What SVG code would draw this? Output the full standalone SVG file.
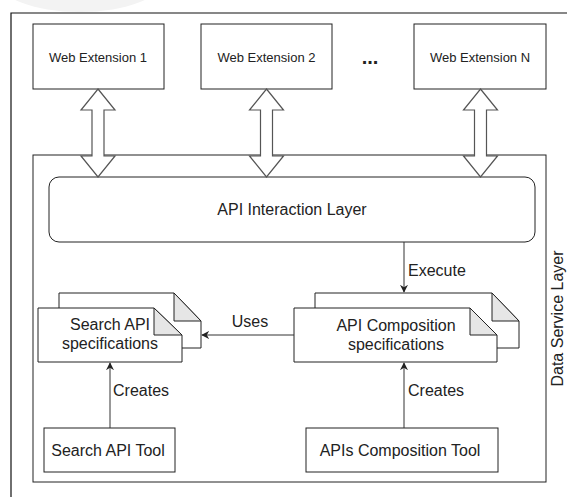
<svg xmlns="http://www.w3.org/2000/svg" width="567" height="497" viewBox="0 0 567 497">
<defs>
<marker id="ah" viewBox="0 0 10 10" refX="9" refY="5" markerWidth="8" markerHeight="8" markerUnits="userSpaceOnUse" orient="auto">
<path d="M0,0 L10,5 L0,10 L3,5 Z" fill="#222"/>
</marker>
</defs>
<style>
text{font-family:"Liberation Sans",Arial,sans-serif;fill:#222}
.box{fill:#fff;stroke:#222;stroke-width:1}
.t13{font-size:13px;text-anchor:middle}
.t16{font-size:16px}
.mid{text-anchor:middle}
.fold{fill:#e6e6e6;stroke:#222;stroke-width:1;stroke-linejoin:round}
.blk{fill:#fff;stroke:#555;stroke-width:1.2;stroke-linejoin:miter}
.ln{fill:none;stroke:#333;stroke-width:1;marker-end:url(#ah)}
</style>
<rect width="567" height="497" fill="#fff"/>
<ellipse cx="80" cy="-22" rx="85" ry="34" fill="#f3f3f3"/>
<path d="M11,497 L11,13 L567,13" fill="none" stroke="#111" stroke-width="1.2"/>

<g id="data-service-layer">
<rect class="box" x="33" y="155" width="513" height="327"/>
<text class="t16 mid" transform="translate(563,318.5) rotate(-90)">Data Service Layer</text>
</g>

<g id="web-extension-1">
<rect class="box" x="33" y="24" width="131" height="65"/>
<text class="t13" x="98" y="61.5">Web Extension 1</text>
</g>
<g id="web-extension-2">
<rect class="box" x="201" y="24" width="131" height="65"/>
<text class="t13" x="266.5" y="61.5">Web Extension 2</text>
</g>
<g id="ellipsis">
<text x="370" y="64" font-size="20" font-weight="bold" text-anchor="middle">...</text>
</g>
<g id="web-extension-n">
<rect class="box" x="414" y="24" width="132" height="65"/>
<text class="t13" x="480" y="61.5">Web Extension N</text>
</g>

<g id="api-interaction-layer">
<rect class="box" x="49" y="177" width="486" height="65" rx="10" ry="10"/>
<text class="t16 mid" x="292" y="215">API Interaction Layer</text>
</g>

<g id="search-api-specifications">
<path class="box" d="M59,293 L174,293 L201,321 L201,348 L59,348 Z"/>
<path class="fold" d="M174,293 L174,321 L201,321 Z"/>
<path class="box" d="M38,308 L154,308 L182,335 L182,362 L38,362 Z"/>
<path class="fold" d="M154,308 L154,335 L182,335 Z"/>
<text class="t16 mid" x="110" y="330">Search API</text>
<text class="t16 mid" x="110" y="349">specifications</text>
</g>

<g id="api-composition-specifications">
<path class="box" d="M315,293 L492,293 L519,321 L519,348 L315,348 Z"/>
<path class="fold" d="M492,293 L492,321 L519,321 Z"/>
<path class="box" d="M294,308 L470,308 L497,335 L497,362 L294,362 Z"/>
<path class="fold" d="M470,308 L470,335 L497,335 Z"/>
<text class="t16 mid" x="396" y="331">API Composition</text>
<text class="t16 mid" x="396" y="350">specifications</text>
</g>

<g id="search-api-tool">
<rect class="box" x="44" y="428" width="131" height="44"/>
<text class="t16 mid" x="108" y="456">Search API Tool</text>
</g>
<g id="apis-composition-tool">
<rect class="box" x="306" y="428" width="192" height="44"/>
<text class="t16 mid" x="400" y="456">APIs Composition Tool</text>
</g>

<g id="connectors">
<path class="blk" d="M98,89 L115,110 L104,110 L104,156 L115,156 L98,177 L81,156 L92,156 L92,110 L81,110 Z"/>
<path class="blk" d="M266.5,89 L283.5,110 L272.5,110 L272.5,156 L283.5,156 L266.5,177 L249.5,156 L260.5,156 L260.5,110 L249.5,110 Z"/>
<path class="blk" d="M480.5,89 L497.5,110 L486.5,110 L486.5,156 L497.5,156 L480.5,177 L463.5,156 L474.5,156 L474.5,110 L463.5,110 Z"/>
<path class="ln" d="M404,242 L404,292"/>
<text class="t16" x="408" y="276">Execute</text>
<path class="ln" d="M294,335 L202,335"/>
<text class="t16 mid" x="250" y="327">Uses</text>
<path class="ln" d="M110,428 L110,363"/>
<text class="t16" x="113" y="396">Creates</text>
<path class="ln" d="M404,428 L404,363"/>
<text class="t16" x="408" y="396">Creates</text>
</g>
</svg>
